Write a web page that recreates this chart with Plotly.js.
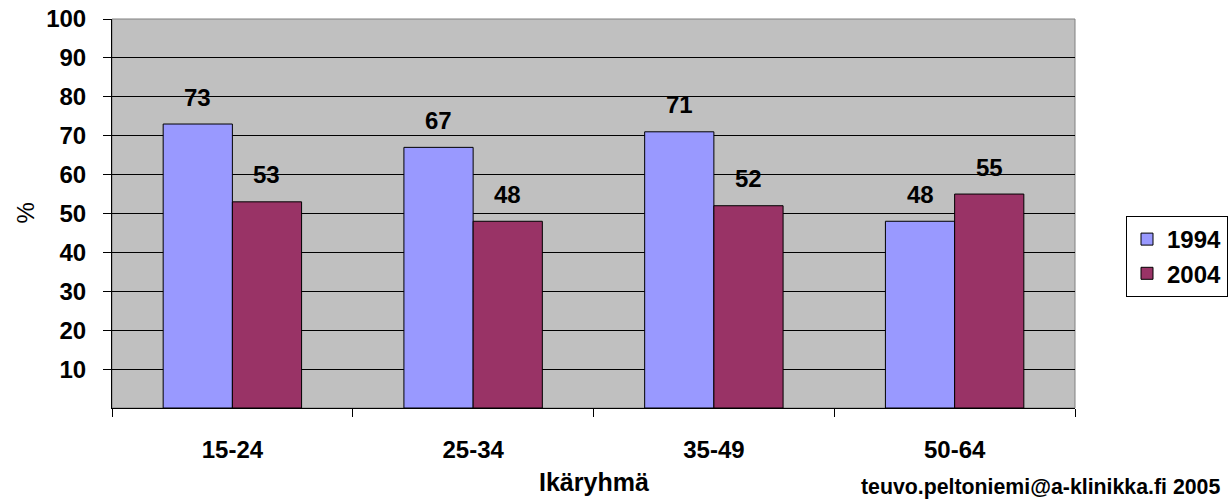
<!DOCTYPE html>
<html>
<head>
<meta charset="utf-8">
<script src="https://cdn.plot.ly/plotly-3.0.1.min.js"></script>
<style>html,body{margin:0;padding:0;background:#fff;}#chart{width:1231px;height:499px;}</style>
</head>
<body>
<div id="chart"></div>
<script>
const categories = ["15-24", "25-34", "35-49", "50-64"];
const seriesNames = ["1994", "2004"];
const values1994 = [73, 67, 71, 48];
const values2004 = [53, 48, 52, 55];
const yTickVals = [10, 20, 30, 40, 50, 60, 70, 80, 90, 100];
const xTitle = "Ikäryhmä";
const yTitle = "%";
const footer = "teuvo.peltoniemi@a-klinikka.fi 2005";

const FONT = "Liberation Sans, Arial, sans-serif";
const colors = ["#9999FF", "#993366"];
const seriesValues = [values1994, values2004];

const traces = seriesValues.map((vals, s) => ({
  type: "bar",
  name: seriesNames[s],
  x: categories,
  y: vals,
  marker: {color: colors[s], line: {color: "#000000", width: 1}},
  hoverinfo: "x+y+name"
}));

const bargap = 0.425;
const barW = (1 - bargap) / 2;
const annotations = [];
seriesValues.forEach((vals, s) => {
  vals.forEach((v, i) => {
    annotations.push({
      xref: "x", yref: "y",
      x: i + (s === 0 ? -barW / 2 : barW / 2),
      y: v,
      text: "<b>" + v + "</b>",
      showarrow: false,
      yanchor: "middle",
      yshift: 27,
      font: {family: FONT, size: 24, color: "#000"}
    });
  });
});
annotations.push({
  xref: "paper", yref: "paper", x: 0.5, y: 0, yanchor: "middle", yshift: -74,
  text: "<b>" + xTitle + "</b>", showarrow: false,
  font: {family: FONT, size: 25, color: "#000"}
});
annotations.push({
  xref: "paper", yref: "paper", x: 0, xanchor: "center", xshift: -87, y: 0.5,
  text: yTitle, textangle: -90, showarrow: false,
  font: {family: FONT, size: 24, color: "#000"}
});
annotations.push({
  xref: "paper", yref: "paper", x: 1, xanchor: "right", xshift: 147, y: 0, yanchor: "middle", yshift: -79,
  text: "<b>" + footer + "</b>", showarrow: false,
  font: {family: FONT, size: 21.3, color: "#000"}
});

const layout = {
  width: 1231, height: 499,
  margin: {l: 112, r: 156, t: 19, b: 91, pad: 0},
  paper_bgcolor: "#FFFFFF",
  plot_bgcolor: "#C0C0C0",
  barmode: "group",
  bargap: bargap,
  bargroupgap: 0,
  showlegend: true,
  legend: {
    xref: "container", yref: "container",
    x: 1126 / 1231, y: 1 - 216 / 499, xanchor: "left", yanchor: "top",
    bgcolor: "#FFFFFF", bordercolor: "#000000", borderwidth: 1,
    font: {family: FONT, size: 24, color: "#000", weight: "bold"},
    itemwidth: 30, tracegroupgap: 6
  },
  xaxis: {
    type: "category",
    tickson: "boundaries",
    ticks: "outside", ticklen: 8, tickcolor: "#000", tickwidth: 1,
    showline: true, linecolor: "#000", linewidth: 1,
    showgrid: false, zeroline: false,
    ticklabelstandoff: 20,
    tickfont: {family: FONT, size: 24, color: "#000", weight: "bold"}
  },
  yaxis: {
    range: [0, 100],
    tickvals: yTickVals,
    ticktext: yTickVals.map(String),
    ticks: "outside", ticklen: 8, tickcolor: "#000", tickwidth: 1,
    showline: true, linecolor: "#000", linewidth: 1,
    showgrid: true, gridcolor: "#000", gridwidth: 1,
    zeroline: false,
    ticklabelstandoff: 12,
    tickfont: {family: FONT, size: 24, color: "#000", weight: "bold"}
  },
  shapes: [{
    type: "rect", xref: "paper", yref: "paper", x0: 0, x1: 1, y0: 0, y1: 1,
    line: {color: "#808080", width: 1}, layer: "below"
  }],
  annotations: annotations
};

Plotly.newPlot("chart", traces, layout, {displayModeBar: false, staticPlot: true});
</script>
</body>
</html>
